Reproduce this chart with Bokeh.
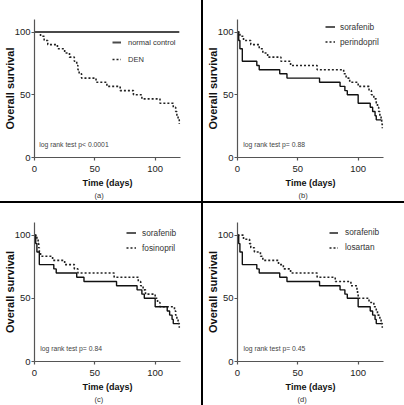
from bokeh.plotting import figure
from bokeh.models import Range1d, FixedTicker, Legend, LegendItem, Label, Div, Title
from bokeh.layouts import row, column
from bokeh.embed import file_html
from bokeh.resources import INLINE

# ---------------- data ----------------
x_ticks = [0, 50, 100]
y_ticks = [0, 50, 100]

control_days = [0, 120]
control_surv = [100, 100]

den_days = [0, 5, 8, 11, 19, 25, 29, 33, 35, 36, 37, 39, 51, 60, 71, 82, 89, 104, 115, 117, 118, 119, 120]
den_surv = [100, 96.7, 93.3, 90, 86.7, 83.3, 80, 76.7, 73.3, 70, 66.7, 63.3, 60, 56.7, 53.3, 50, 46.7, 43.3, 40, 36.7, 33.3, 30, 26.7]

sorafenib_days = [0, 1, 2, 4, 16, 18, 35, 41, 68, 85, 89, 91, 100, 110, 112, 114, 115, 119]
sorafenib_surv = [100, 93.3, 86.7, 76.7, 73.3, 70, 66.7, 63.3, 60, 56.7, 53.3, 50, 43.3, 40, 36.7, 33.3, 30, 30]

perindopril_days = [0, 2, 5, 11, 18, 21, 25, 36, 44, 66, 88, 90, 93, 100, 109, 111, 113, 115, 116, 117, 118, 119, 119.5, 120]
perindopril_surv = [100, 96.7, 93.3, 90, 86.7, 83.3, 80, 76.7, 73.3, 70, 66.7, 63.3, 60, 56.7, 53.3, 50, 46.7, 43.3, 40, 36.7, 33.3, 30, 26.7, 23.3]

fosinopril_days = [0, 2, 3, 3.5, 4, 5, 15, 25, 33, 36, 66, 86, 88, 90, 92, 100, 102, 104, 116, 117, 118, 119, 120]
fosinopril_surv = [100, 96.7, 93.3, 90, 86.7, 83.3, 80, 76.7, 73.3, 70, 66.7, 63.3, 60, 56.7, 53.3, 50, 46.7, 43.3, 40, 36.7, 33.3, 30, 26.7]

losartan_days = [0, 5, 10, 11, 14, 19, 21, 34, 38, 44, 66, 81, 94, 99, 99.5, 100, 109, 113, 115, 116, 118, 119, 120]
losartan_surv = [100, 96.7, 93.3, 90, 86.7, 83.3, 80, 76.7, 73.3, 70, 66.7, 63.3, 60, 56.7, 53.3, 50, 46.7, 43.3, 40, 36.7, 33.3, 30, 26.7]

p_texts = ["log rank test p< 0.0001", "log rank test p= 0.88", "log rank test p= 0.84", "log rank test p= 0.45"]
sub_labels = ["(a)", "(b)", "(c)", "(d)"]

FONT = "Liberation Sans"
AXIS_COL = "#555555"


def make_panel(width, height, left, right, top, bottom):
    p = figure(width=width, height=height, x_range=Range1d(0, 121), y_range=Range1d(0, 110),
               toolbar_location=None, output_backend="svg", title=None,
               min_border_left=left, min_border_right=right,
               min_border_top=top, min_border_bottom=bottom)
    p.grid.visible = False
    p.outline_line_color = None
    p.background_fill_color = "white"
    p.border_fill_color = "white"
    for ax in (p.xaxis[0], p.yaxis[0]):
        ax.axis_line_color = AXIS_COL
        ax.axis_line_width = 1.2
        ax.major_tick_line_color = AXIS_COL
        ax.major_tick_line_width = 1.2
        ax.major_tick_in = 0
        ax.major_tick_out = 3
        ax.minor_tick_line_color = None
        ax.major_label_text_font = FONT
        ax.major_label_text_font_size = "9.5px"
        ax.major_label_text_color = "#222222"
    p.xaxis.ticker = FixedTicker(ticks=x_ticks)
    p.yaxis.ticker = FixedTicker(ticks=y_ticks)
    p.xaxis.major_label_standoff = 5
    p.yaxis.major_label_standoff = 1
    p.xaxis.axis_label = "Time (days)"
    p.xaxis.axis_label_text_font = FONT
    p.xaxis.axis_label_text_font_style = "bold"
    p.xaxis.axis_label_text_font_size = "9px"
    p.xaxis.axis_label_text_color = "#111111"
    p.xaxis.axis_label_standoff = 3
    p.yaxis.axis_label = "Overall survival"
    p.yaxis.axis_label_text_font = FONT
    p.yaxis.axis_label_text_font_style = "bold"
    p.yaxis.axis_label_text_font_size = "11px"
    p.yaxis.axis_label_text_color = "#111111"
    p.yaxis.axis_label_standoff = -4
    return p


def add_legend(p, items, vx, vy, row_h, spacing, glyph_w, standoff, size):
    lg = Legend(items=items, location=(vx, vy), orientation="vertical",
                glyph_width=glyph_w, glyph_height=row_h, label_height=row_h,
                spacing=spacing, padding=0, margin=0, label_standoff=standoff,
                border_line_color=None, background_fill_alpha=0,
                label_text_font=FONT, label_text_font_size=size,
                label_text_color="#333333")
    p.add_layout(lg)


def add_texts(p, ptext, px, py, sub, sub_offset):
    p.add_layout(Label(x=px, y=py, text=ptext, text_font=FONT, text_font_size="6.8px",
                       text_color="#444444", text_baseline="middle", text_align="left"))
    p.add_layout(Title(text=sub, align="left", offset=sub_offset, standoff=0,
                       vertical_align="top", text_font=FONT, text_font_size="7.5px",
                       text_font_style="normal", text_color="#333333"), "below")


# ---- panel (a)
pa = make_panel(201, 201, 34, 21, 19, 43)
r_den = pa.step(den_days, den_surv, mode="after", line_color="#222222", line_width=1.6, line_dash="2 2")
r_ctl = pa.line(control_days, control_surv, line_color="#4a4a4a", line_width=2)
add_legend(pa, [LegendItem(label="normal control", renderers=[r_ctl]),
                LegendItem(label="DEN", renderers=[r_den])], 78, 90, 16, 1, 9, 7, "7.5px")
add_texts(pa, p_texts[0], 4, 10, sub_labels[0], 60)

# ---- panel (b)
pb = make_panel(201, 201, 33, 21, 19, 43)
r_per = pb.step(perindopril_days, perindopril_surv, mode="after", line_color="#222222", line_width=1.6, line_dash="2 2")
r_sor_b = pb.step(sorafenib_days, sorafenib_surv, mode="after", line_color="#111111", line_width=1.4)
add_legend(pb, [LegendItem(label="sorafenib", renderers=[r_sor_b]),
                LegendItem(label="perindopril", renderers=[r_per])], 88, 108, 15, 0, 10, 5, "8.3px")
add_texts(pb, p_texts[1], 4.7, 10.3, sub_labels[1], 61)

# ---- panel (c)
pc = make_panel(201, 202, 34, 21, 19, 44)
r_fos = pc.step(fosinopril_days, fosinopril_surv, mode="after", line_color="#222222", line_width=1.6, line_dash="2 2")
r_sor_c = pc.step(sorafenib_days, sorafenib_surv, mode="after", line_color="#111111", line_width=1.4)
add_legend(pc, [LegendItem(label="sorafenib", renderers=[r_sor_c]),
                LegendItem(label="fosinopril", renderers=[r_fos])], 92, 106, 15, 0, 10, 6, "8.3px")
add_texts(pc, p_texts[2], 4.7, 10.5, sub_labels[2], 60)

# ---- panel (d)
pd = make_panel(201, 202, 34, 21, 19, 44)
r_los = pd.step(losartan_days, losartan_surv, mode="after", line_color="#222222", line_width=1.6, line_dash="2 2")
r_sor_d = pd.step(sorafenib_days, sorafenib_surv, mode="after", line_color="#111111", line_width=1.4)
add_legend(pd, [LegendItem(label="sorafenib", renderers=[r_sor_d]),
                LegendItem(label="losartan", renderers=[r_los])], 92, 106.5, 15, 0, 9, 7, "8.3px")
add_texts(pd, p_texts[3], 5, 10.3, sub_labels[3], 60)


def bar_div(w, h):
    return Div(text="", width=w, height=h, margin=0,
               styles={"background-color": "black"})


layout = column(
    row(pa, bar_div(2, 201), pb, spacing=0),
    bar_div(404, 2),
    row(pc, bar_div(2, 202), pd, spacing=0),
    spacing=0,
)

open("out.html", "w").write(file_html(layout, INLINE))
